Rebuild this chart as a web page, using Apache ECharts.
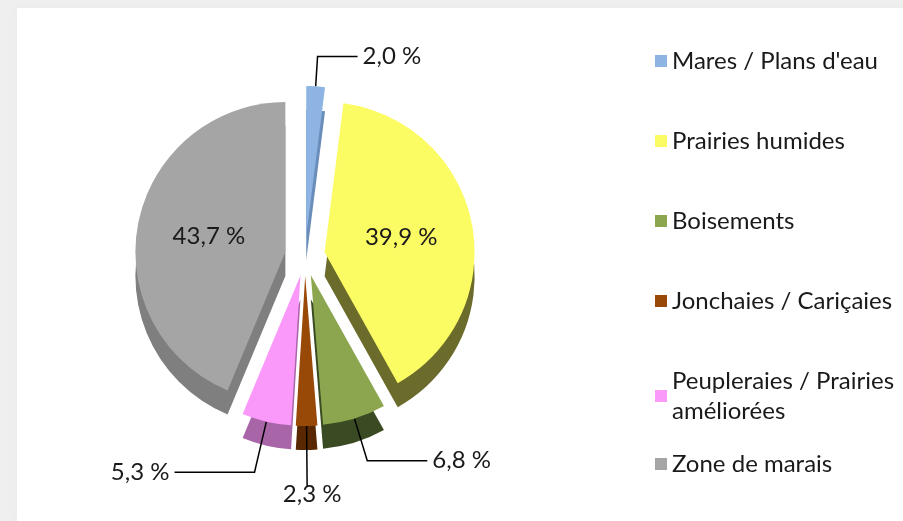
<!DOCTYPE html>
<html>
<head>
<meta charset="utf-8">
<title>Occupation des sols</title>
<script src="https://cdn.jsdelivr.net/npm/echarts@6/dist/echarts.min.js"></script>
<style>
  html, body { margin: 0; padding: 0; background: #efefef; }
  #paper { position: absolute; left: 17px; top: 8px; width: 886px; height: 513px; background: #fff; box-shadow: 0 0 8px #ebebeb; }
  #main { position: absolute; left: 0; top: 0; width: 903px; height: 521px; }
</style>
</head>
<body>
<div id="paper"></div>
<div id="main"></div>
<script>
// types de milieux et parts (%)
var categories = ["Mares / Plans d'eau", "Prairies humides", "Boisements", "Jonchaies / Cariçaies", "Peupleraies / Prairies améliorées", "Zone de marais"];
var shares = [2.0, 39.9, 6.8, 2.3, 5.3, 43.7];

var topColors = ["#8db4e2", "#fbfb64", "#8ba64e", "#984807", "#fb99fb", "#a5a5a5"];
var sideColors = ["#6a8dba", "#6b6b2b", "#3a4a22", "#5a2800", "#a866a8", "#7f7f7f"];
// longueur des traits de rappel [radial, horizontal]
var leaderLen = [[30, 40], null, [44, 60], [56, 0], [52, 80], null];

var font = "Lato";
var cx = 305, cy = 256, depth = 24;

function fmt(v) {
  return v.toFixed(1).replace(".", ",") + " %";
}

var topData = categories.map(function (name, i) {
  var item = {
    name: name,
    value: shares[i],
    selected: true,
    itemStyle: { color: topColors[i] }
  };
  if (leaderLen[i]) {
    item.label = { position: "outside" };
    item.labelLine = { length: leaderLen[i][0], length2: leaderLen[i][1] };
  } else {
    item.label = { position: "inside" };
  }
  return item;
});

var sideData = categories.map(function (name, i) {
  return { name: name, value: shares[i], selected: true, itemStyle: { color: sideColors[i] } };
});

var bottomIdx = categories.indexOf("Jonchaies / Cariçaies");

var myChart = echarts.init(document.getElementById("main"));

var legendText = { fontFamily: font, fontSize: 24, color: "#1a1a1a", lineHeight: 30 };

var option = {
  animation: false,
  legend: [{
    orient: "vertical",
    left: 655,
    top: 46,
    padding: 0,
    itemGap: 50,
    itemWidth: 12,
    itemHeight: 12,
    icon: "rect",
    selectedMode: false,
    data: categories.slice(0, 5),
    formatter: function (n) {
      return n.replace("/ Prairies ", "/ Prairies\n");
    },
    textStyle: legendText
  }, {
    orient: "vertical",
    left: 655,
    top: 449,
    padding: 0,
    itemWidth: 12,
    itemHeight: 12,
    icon: "rect",
    selectedMode: false,
    data: categories.slice(5),
    textStyle: legendText
  }],
  series: [{
    name: "top",
    type: "pie",
    z: 3,
    center: [cx, cy],
    radius: 150,
    startAngle: 90,
    clockwise: true,
    selectedMode: "multiple",
    selectedOffset: 20,
    avoidLabelOverlap: false,
    emphasis: { scale: false },
    label: {
      formatter: function (p) { return fmt(p.value); },
      fontFamily: font,
      fontSize: 24,
      color: "#1a1a1a"
    },
    labelLine: { lineStyle: { color: "#000", width: 1.5 } },
    labelLayout: function (p) {
      if (p.seriesIndex === 0 && p.dataIndex === bottomIdx && p.labelLinePoints) {
        var end = p.labelLinePoints[p.labelLinePoints.length - 1];
        return { x: end[0], y: end[1] + 4, align: "center", verticalAlign: "top" };
      }
    },
    data: topData
  }, {
    name: "side",
    type: "pie",
    z: 2,
    silent: true,
    center: [cx, cy + depth],
    radius: 150,
    startAngle: 90,
    clockwise: true,
    selectedMode: "multiple",
    selectedOffset: 20,
    label: { show: false },
    labelLine: { show: false },
    data: sideData
  }]
};

myChart.setOption(option);
</script>
</body>
</html>
